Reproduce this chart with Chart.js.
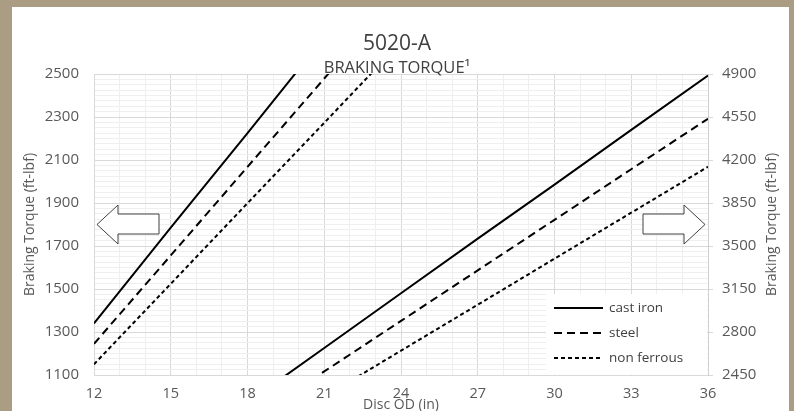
<!DOCTYPE html>
<html>
<head>
<meta charset="utf-8">
<script src="https://cdn.jsdelivr.net/npm/chart.js@4/dist/chart.umd.min.js"></script>
<style>
  html, body { margin: 0; padding: 0; width: 794px; height: 411px; overflow: hidden; background: #ab9d84; }
  #frame { position: absolute; left: 12px; top: 7px; width: 777px; height: 404px; background: #ffffff; }
  #wrap { position: absolute; left: 0; top: 0; width: 794px; height: 411px; }
</style>
</head>
<body>
<div id="frame"></div>
<div id="wrap"><canvas id="c" width="794" height="411"></canvas></div>
<script>
// ---- data ----
const discOD      = [12, 15, 18, 21, 24, 27, 30, 33, 36];
const castIron    = [1340, 1785, 2225, 2670, 3115, 3560, 4000, 4445, 4888];
const steel       = [1245, 1656, 2068, 2479, 2890, 3302, 3713, 4125, 4536];
const nonFerrous  = [1150, 1524, 1899, 2273, 2648, 3022, 3397, 3771, 4145];
const seriesLabels = ['cast iron', 'steel', 'non ferrous'];
const xTickLabels     = [12, 15, 18, 21, 24, 27, 30, 33, 36];
const leftTickLabels  = [1100, 1300, 1500, 1700, 1900, 2100, 2300, 2500];
const rightTickLabels = [2450, 2800, 3150, 3500, 3850, 4200, 4550, 4900];

const FONT = "'Open Sans', 'Noto Sans', sans-serif";
const dashes = [[], [8, 5], [4, 3]];
const seriesValues = [castIron, steel, nonFerrous];

const datasets = [];
['y', 'y1'].forEach(axis => {
  seriesValues.forEach((vals, i) => {
    datasets.push({
      label: seriesLabels[i],
      data: discOD.map((x, k) => ({ x: x, y: vals[k] })),
      yAxisID: axis,
      borderColor: '#000000',
      backgroundColor: '#000000',
      borderWidth: 2,
      borderDash: dashes[i],
      pointRadius: 0,
      tension: 0,
      fill: false
    });
  });
});

const MAJOR = '#d9d9d9', MINOR = '#efefef';

const decorPlugin = {
  id: 'decor',
  beforeDatasetsDraw(chart) {
    const ctx = chart.ctx, a = chart.chartArea;
    const cy = (a.top + a.bottom) / 2;
    ctx.save();
    // arrows
    ctx.strokeStyle = '#404040'; ctx.lineWidth = 1; ctx.fillStyle = '#ffffff';
    const L = a.left;
    ctx.beginPath();
    ctx.moveTo(L + 3, cy);
    ctx.lineTo(L + 24, cy - 19.5);
    ctx.lineTo(L + 24, cy - 10.5);
    ctx.lineTo(L + 65, cy - 10.5);
    ctx.lineTo(L + 65, cy + 9.5);
    ctx.lineTo(L + 24, cy + 9.5);
    ctx.lineTo(L + 24, cy + 19.5);
    ctx.closePath(); ctx.fill(); ctx.stroke();
    const R = a.right;
    ctx.beginPath();
    ctx.moveTo(R - 3, cy);
    ctx.lineTo(R - 24, cy - 19.5);
    ctx.lineTo(R - 24, cy - 10.5);
    ctx.lineTo(R - 65, cy - 10.5);
    ctx.lineTo(R - 65, cy + 9.5);
    ctx.lineTo(R - 24, cy + 9.5);
    ctx.lineTo(R - 24, cy + 19.5);
    ctx.closePath(); ctx.fill(); ctx.stroke();
    // legend box
    ctx.fillStyle = '#ffffff';
    ctx.fillRect(a.right - 162, a.bottom - 81, 161, 80.5);
    const x0 = a.right - 154;
    for (let i = 0; i < 3; i++) {
      const yy = a.bottom - 67 + i * 25;
      ctx.beginPath();
      ctx.setLineDash(dashes[i]);
      ctx.strokeStyle = '#000000'; ctx.lineWidth = 2;
      ctx.moveTo(x0, yy); ctx.lineTo(x0 + 49, yy); ctx.stroke();
      ctx.setLineDash([]);
      ctx.fillStyle = '#404040';
      ctx.font = '13.5px ' + FONT;
      ctx.textBaseline = 'middle'; ctx.textAlign = 'left';
      ctx.fillText(seriesLabels[i], x0 + 55, yy);
    }
    ctx.restore();
  },
  afterDraw(chart) {
    const ctx = chart.ctx, a = chart.chartArea;
    ctx.save();
    ctx.translate(772, (a.top + a.bottom) / 2);
    ctx.rotate(-Math.PI / 2);
    ctx.fillStyle = '#595959';
    ctx.font = '14px ' + FONT;
    ctx.textAlign = 'center'; ctx.textBaseline = 'middle';
    ctx.fillText('Braking Torque (ft-lbf)', 0, 0);
    ctx.restore();
  }
};

new Chart(document.getElementById('c'), {
  type: 'line',
  data: { datasets: datasets },
  plugins: [decorPlugin],
  options: {
    responsive: false,
    animation: false,
    devicePixelRatio: 1,
    layout: { padding: 0 },
    plugins: {
      legend: { display: false },
      tooltip: { enabled: false },
      title: {
        display: true, text: '5020-A', color: '#404040',
        font: { family: FONT, size: 21, weight: 'normal', lineHeight: 1.2 },
        padding: { top: 31, bottom: 0 }
      },
      subtitle: {
        display: true, text: 'BRAKING TORQUE\u00B9', color: '#404040',
        font: { family: FONT, size: 16.5, weight: 'normal', lineHeight: 1.2 },
        padding: { top: 2.2, bottom: -4.2 }
      }
    },
    scales: {
      x: {
        type: 'linear', min: 12, max: 36,
        afterFit(s) { s.height = 36; },
        ticks: {
          stepSize: 1, autoSkip: false, maxRotation: 0, padding: 10,
          color: '#595959', font: { family: FONT, size: 14.5 },
          callback: v => xTickLabels.includes(v) ? String(v) : ''
        },
        grid: {
          drawTicks: false,
          color: c => xTickLabels.includes(c.tick.value) ? MAJOR : MINOR,
          lineWidth: 1
        },
        border: { color: MAJOR },
        title: {
          display: true, text: 'Disc OD (in)', color: '#595959',
          font: { family: FONT, size: 14 }, padding: { top: 0, bottom: -2 }
        }
      },
      y: {
        type: 'linear', position: 'left', min: 1100, max: 2500,
        afterFit(s) { s.width = 94; },
        ticks: {
          stepSize: 25, autoSkip: false, padding: 15,
          color: '#595959', font: { family: FONT, size: 15 },
          callback: v => leftTickLabels.includes(v) ? String(v) : ''
        },
        grid: {
          drawTicks: false,
          color: c => leftTickLabels.includes(c.tick.value) ? MAJOR : MINOR
        },
        border: { color: MAJOR },
        title: {
          display: true, text: 'Braking Torque (ft-lbf)', color: '#595959',
          font: { family: FONT, size: 14 }, padding: { top: 21.5, bottom: 0 }
        }
      },
      y1: {
        type: 'linear', position: 'right', min: 2450, max: 4900,
        afterFit(s) { s.width = 86; },
        ticks: {
          stepSize: 350, autoSkip: false, padding: 9,
          color: '#595959', font: { family: FONT, size: 15 },
          callback: v => rightTickLabels.includes(v) ? String(v) : ''
        },
        grid: { drawOnChartArea: false, drawTicks: true, tickLength: 5, color: MAJOR },
        border: { color: '#cfcfcf' }
      }
    }
  }
});
</script>
</body>
</html>
